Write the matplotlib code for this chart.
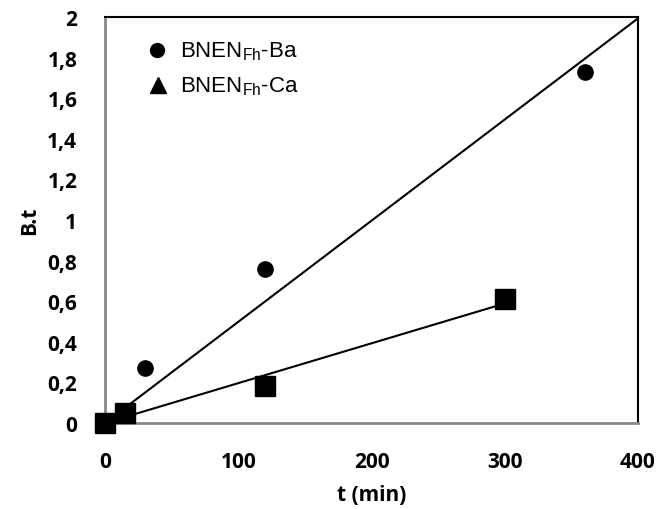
import numpy as np
import matplotlib.pyplot as plt
from matplotlib.ticker import FuncFormatter

plt.rcParams['mathtext.fontset'] = 'custom'
plt.rcParams['mathtext.rm'] = 'Liberation Sans'

# data
ba_t = [0, 30, 120, 360]
ba_y = [0, 0.27, 0.76, 1.73]
ca_t = [0, 15, 120, 300]
ca_y = [0, 0.05, 0.18, 0.61]
ba_label = "BNEN$_{\\mathrm{Fh}}$-Ba"
ca_label = "BNEN$_{\\mathrm{Fh}}$-Ca"
x_ticks = [0, 100, 200, 300, 400]
y_ticks = [0, 0.2, 0.4, 0.6, 0.8, 1, 1.2, 1.4, 1.6, 1.8, 2]

# linear trendlines through the origin
ba_k = np.dot(ba_t, ba_y) / np.dot(ba_t, ba_t)
ca_k = np.dot(ca_t, ca_y) / np.dot(ca_t, ca_t)

fig = plt.figure(figsize=(6.6, 5.1), dpi=100)
ax = fig.add_axes([105 / 660, 1 - 424 / 510, 533 / 660, 406 / 510])

ax.plot([0, 400], [0, ba_k * 400], color="black", lw=1.5, zorder=2)
ax.plot([0, max(ca_t)], [0, ca_k * max(ca_t)], color="black", lw=1.5, zorder=2)

ax.plot(ba_t, ba_y, ls="", marker="o", ms=11, color="black", clip_on=False, zorder=3)
ax.plot(ca_t, ca_y, ls="", marker="s", ms=14, color="black", clip_on=False, zorder=4)

ax.set_xlim(0, 400)
ax.set_ylim(0, 2)
ax.set_xticks(x_ticks)
ax.set_yticks(y_ticks)
ax.yaxis.set_major_formatter(FuncFormatter(lambda v, p: f"{v:g}".replace(".", ",")))
ax.tick_params(length=0, labelsize=15, pad=20)
for lab in ax.get_xticklabels() + ax.get_yticklabels():
    lab.set_fontweight("bold")
    lab.set_family("Open Sans")

for side in ["top", "right"]:
    ax.spines[side].set_color("black")
    ax.spines[side].set_linewidth(1.5)
for side in ["left", "bottom"]:
    ax.spines[side].set_color("#888888")
    ax.spines[side].set_linewidth(2)

ax.set_xlabel("t (min)", fontsize=15, fontweight="bold", family="Open Sans", labelpad=9)
ax.set_ylabel("B.t", fontsize=15, fontweight="bold", family="Open Sans", labelpad=5)

# legend drawn by hand (Excel shows a triangle for the square series)
ax.plot([0.098], [0.918], transform=ax.transAxes, marker="o", ms=10, color="black", ls="")
ax.plot([0.100], [0.832], transform=ax.transAxes, marker="^", ms=11, color="black", ls="")
ax.text(0.140, 0.918, ba_label, transform=ax.transAxes, fontsize=16,
        family="Liberation Sans", va="center")
ax.text(0.140, 0.832, ca_label, transform=ax.transAxes, fontsize=16,
        family="Liberation Sans", va="center")

fig.savefig("out.png", dpi=100)
